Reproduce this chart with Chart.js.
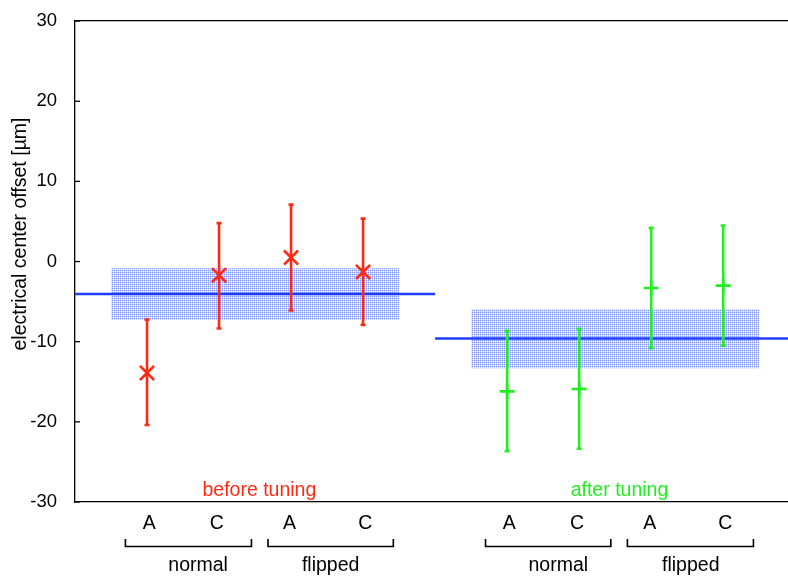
<!DOCTYPE html>
<html>
<head>
<meta charset="utf-8">
<script src="https://cdn.jsdelivr.net/npm/chart.js@4.4.0/dist/chart.umd.min.js"></script>
<style>
  html, body { margin: 0; padding: 0; background: #fff; overflow: hidden; }
  #wrap { width: 788px; height: 579px; }
</style>
</head>
<body>
<div id="wrap"><canvas id="chart"></canvas></div>
<script>
// values
const yTicks = [-30, -20, -10, 0, 10, 20, 30];
const groupNames = ['before tuning', 'after tuning'];
const modeNames = ['normal', 'flipped', 'normal', 'flipped'];
const sideNames = ['A', 'C', 'A', 'C', 'A', 'C', 'A', 'C'];

const beforeX = [1, 2, 3, 4];
const beforeY = [-13.9, -1.7, 0.5, -1.3];
const beforeLow = [-20.4, -8.35, -6.1, -7.9];
const beforeHigh = [-7.25, 4.8, 7.1, 5.35];

const afterX = [6, 7, 8, 9];
const afterY = [-16.2, -15.9, -3.3, -3.0];
const afterLow = [-23.65, -23.35, -10.8, -10.5];
const afterHigh = [-8.65, -8.4, 4.2, 4.5];

const beforeMean = -4.05;
const beforeBand = [-7.3, -0.85];
const afterMean = -9.6;
const afterBand = [-13.3, -5.95];

// layout (x in axis units)
const X_MAX = 9.9;
const beforeLineX = [0, 5];
const afterLineX = [5, X_MAX];
const beforeBandX = [0.5, 4.5];
const afterBandX = [5.5, 9.5];
const groupLabelX = [2.56, 7.56];
const bracketX = [[0.7, 2.45], [2.68, 4.42], [5.7, 7.44], [7.67, 9.42]];
const modeLabelX = [1.71, 3.55, 6.71, 8.55];
const sideLabelX = [1.03, 1.97, 2.98, 4.03, 6.03, 6.97, 7.98, 9.03];

const RED = '#ff2a12';
const GREEN = '#1ff01f';
const BLUE = '#1f3cff';
const FONT = '"Liberation Sans", Arial, sans-serif';

// stippled fill like the original band
function makePattern() {
  const c = document.createElement('canvas');
  c.width = 2; c.height = 2;
  const g = c.getContext('2d');
  g.fillStyle = '#ffffff'; g.fillRect(0, 0, 2, 2);
  g.fillStyle = '#8399ff'; g.fillRect(0, 0, 1, 1);
  g.fillStyle = '#c6d0ff'; g.fillRect(1, 0, 1, 1); g.fillRect(0, 1, 1, 1);
  return g.createPattern(c, 'repeat');
}
const bandFill = makePattern();

const pts = (xs, ys) => xs.map((x, i) => ({ x: x, y: ys[i] }));
const flat = (xs, v) => xs.map(x => ({ x: x, y: v }));

const errorBars = {
  id: 'errorBars',
  afterDatasetsDraw(chart) {
    const { ctx, scales: { x, y } } = chart;
    const sets = [[beforeX, beforeLow, beforeHigh, RED], [afterX, afterLow, afterHigh, GREEN]];
    ctx.save();
    ctx.lineWidth = 2.6;
    sets.forEach(([xs, lo, hi, col]) => {
      ctx.strokeStyle = col;
      xs.forEach((v, i) => {
        const px = x.getPixelForValue(v);
        const y1 = y.getPixelForValue(lo[i]);
        const y2 = y.getPixelForValue(hi[i]);
        ctx.beginPath();
        ctx.moveTo(px, y1); ctx.lineTo(px, y2);
        ctx.moveTo(px - 2.5, y1); ctx.lineTo(px + 2.5, y1);
        ctx.moveTo(px - 2.5, y2); ctx.lineTo(px + 2.5, y2);
        ctx.stroke();
      });
    });
    ctx.restore();
  }
};

const annotations = {
  id: 'annotations',
  afterDraw(chart) {
    const { ctx, chartArea, scales: { x, y } } = chart;
    ctx.save();
    // inner tick marks on the left axis
    ctx.strokeStyle = '#000';
    ctx.lineWidth = 1.3;
    yTicks.forEach(t => {
      const py = y.getPixelForValue(t);
      ctx.beginPath();
      ctx.moveTo(chartArea.left, py); ctx.lineTo(chartArea.left + 5, py);
      ctx.stroke();
    });

    ctx.font = '19.5px ' + FONT;
    ctx.textAlign = 'center';
    ctx.textBaseline = 'middle';
    // group names inside the plot
    [RED, GREEN].forEach((col, i) => {
      ctx.fillStyle = col;
      ctx.fillText(groupNames[i], x.getPixelForValue(groupLabelX[i]), 491);
    });
    // side labels
    ctx.fillStyle = '#000';
    sideNames.forEach((s, i) => ctx.fillText(s, x.getPixelForValue(sideLabelX[i]), 524));
    // brackets
    ctx.lineWidth = 1.6;
    bracketX.forEach(([a, b]) => {
      const pa = x.getPixelForValue(a), pb = x.getPixelForValue(b);
      ctx.beginPath();
      ctx.moveTo(pa, 539); ctx.lineTo(pa, 546.5); ctx.lineTo(pb, 546.5); ctx.lineTo(pb, 539);
      ctx.stroke();
    });
    modeNames.forEach((m, i) => ctx.fillText(m, x.getPixelForValue(modeLabelX[i]), 566));

    // y axis title
    ctx.translate(21, 234);
    ctx.rotate(-Math.PI / 2);
    ctx.font = '19.5px ' + FONT;
    ctx.fillText('electrical center offset [\u00b5m]', 0, 0);
    ctx.restore();
  }
};

new Chart(document.getElementById('chart'), {
  type: 'scatter',
  data: {
    datasets: [
      { data: pts(beforeX, beforeY), pointStyle: 'crossRot', pointRadius: 10, pointHoverRadius: 10,
        borderColor: RED, backgroundColor: RED, pointBorderWidth: 2.6, order: 0 },
      { data: pts(afterX, afterY), pointStyle: 'cross', pointRadius: 7.5, pointHoverRadius: 7.5,
        borderColor: GREEN, backgroundColor: GREEN, pointBorderWidth: 2.6, order: 0 },
      { data: flat(beforeLineX, beforeMean), showLine: true, borderColor: BLUE, borderWidth: 2.5,
        pointRadius: 0, order: 1 },
      { data: flat(afterLineX, afterMean), showLine: true, borderColor: BLUE, borderWidth: 2.5,
        pointRadius: 0, order: 1 },
      { data: flat(beforeBandX, beforeBand[1]), showLine: true, borderWidth: 0, pointRadius: 0,
        fill: '+1', backgroundColor: bandFill, order: 2 },
      { data: flat(beforeBandX, beforeBand[0]), showLine: true, borderWidth: 0, pointRadius: 0, order: 2 },
      { data: flat(afterBandX, afterBand[1]), showLine: true, borderWidth: 0, pointRadius: 0,
        fill: '+1', backgroundColor: bandFill, order: 2 },
      { data: flat(afterBandX, afterBand[0]), showLine: true, borderWidth: 0, pointRadius: 0, order: 2 }
    ]
  },
  options: {
    responsive: true,
    maintainAspectRatio: false,
    animation: false,
    events: [],
    layout: { padding: 0, autoPadding: false },
    plugins: { legend: { display: false }, tooltip: { enabled: false } },
    scales: {
      x: {
        type: 'linear', position: 'bottom', min: 0, max: X_MAX,
        ticks: { display: false },
        grid: { display: false },
        border: { display: true, color: '#000', width: 1.3 },
        afterFit(s) { s.height = 77; }
      },
      xTop: {
        type: 'linear', position: 'top', min: 0, max: X_MAX,
        ticks: { display: false },
        grid: { display: false },
        border: { display: true, color: '#000', width: 1.3 },
        afterFit(s) { s.height = 19; }
      },
      y: {
        type: 'linear', min: -30, max: 30,
        afterBuildTicks(s) { s.ticks = yTicks.map(v => ({ value: v })); },
        ticks: { color: '#000', font: { size: 18.5, family: FONT }, padding: 10 },
        grid: { display: false },
        border: { display: true, color: '#000', width: 1.3 },
        afterFit(s) { s.width = 75; }
      }
    }
  },
  plugins: [errorBars, annotations]
});
</script>
</body>
</html>
